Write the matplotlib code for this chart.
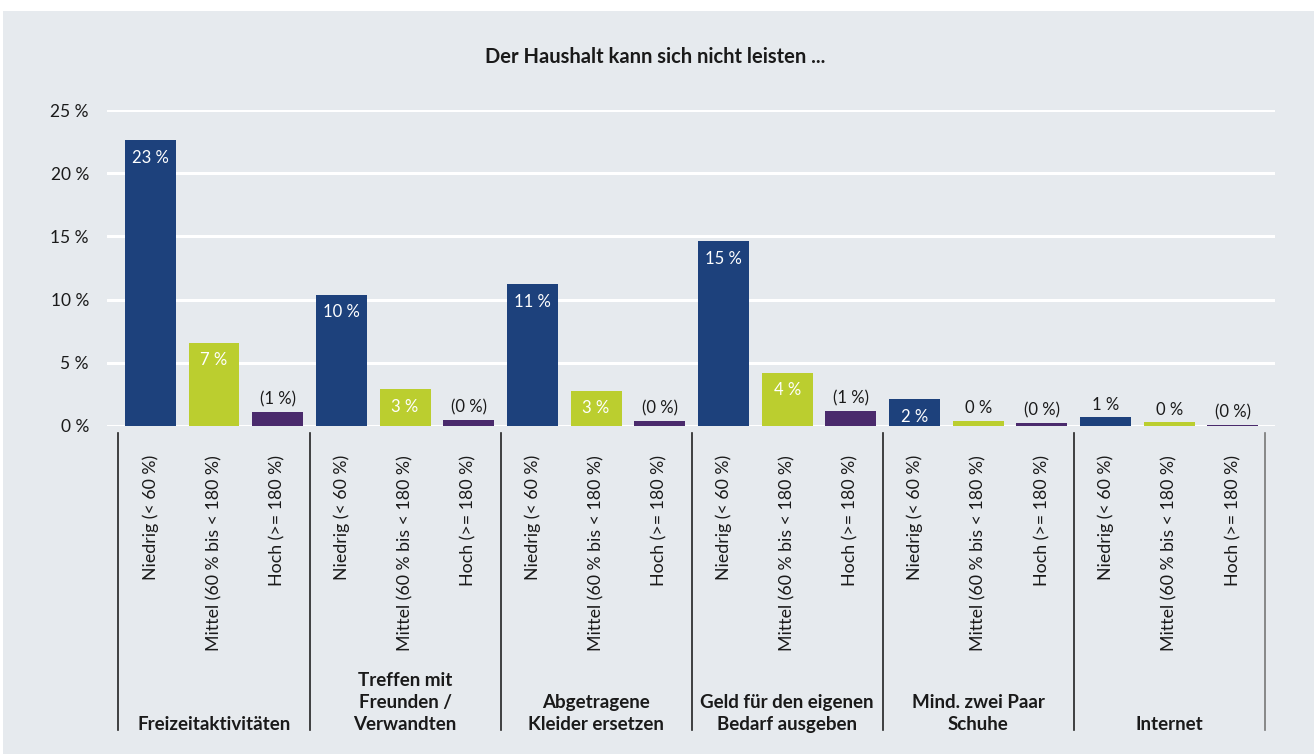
import matplotlib
matplotlib.use("Agg")
import matplotlib.pyplot as plt
from matplotlib.patches import Rectangle
import matplotlib.transforms as mtransforms

plt.rcParams['font.family'] = ['Lato', 'DejaVu Sans']

title = "Der Haushalt kann sich nicht leisten ..."
categories = ["Freizeitaktivitäten", "Treffen mit\nFreunden /\nVerwandten",
              "Abgetragene\nKleider ersetzen", "Geld für den eigenen\nBedarf ausgeben",
              "Mind. zwei Paar\nSchuhe", "Internet"]
income_groups = ["Niedrig (< 60 %)", "Mittel (60 % bis < 180 %)", "Hoch (>= 180 %)"]
niedrig = [22.6, 10.4, 11.2, 14.6, 2.1, 0.7]
mittel = [6.6, 2.9, 2.8, 4.2, 0.4, 0.3]
hoch = [1.1, 0.5, 0.4, 1.2, 0.25, 0.1]
niedrig_labels = ["23 %", "10 %", "11 %", "15 %", "2 %", "1 %"]
mittel_labels = ["7 %", "3 %", "3 %", "4 %", "0 %", "0 %"]
hoch_labels = ["(1 %)", "(0 %)", "(0 %)", "(1 %)", "(0 %)", "(0 %)"]
yticks = [0, 5, 10, 15, 20, 25]
ytick_labels = ["0 %", "5 %", "10 %", "15 %", "20 %", "25 %"]

colors = ["#1D417C", "#BBCE2F", "#4A2A6C"]
bg = "#E6EAEE"
txt = "#1a1a1a"

W, H = 1314, 754
fig = plt.figure(figsize=(W / 100, H / 100), dpi=100, facecolor="white")
fig.patches.append(Rectangle((3 / W, 0), 1 - 3 / W, 1 - 11 / H, transform=fig.transFigure,
                             facecolor=bg, edgecolor="none", zorder=-10))

ax_left, ax_right = 107, 1275
ax_top, ax_bot = 110, 426
ax = fig.add_axes([ax_left / W, 1 - ax_bot / H, (ax_right - ax_left) / W, (ax_bot - ax_top) / H])
ax.set_facecolor("none")

series = [niedrig, mittel, hoch]
labels = [niedrig_labels, mittel_labels, hoch_labels]
n_cat = len(categories)
for s in range(3):
    xs = [c * 3 + s for c in range(n_cat)]
    ax.bar(xs, series[s], width=0.8, color=colors[s], zorder=3)
    for x, v, lab in zip(xs, series[s], labels[s]):
        if v > 1.5:
            ax.annotate(lab, (x, v), xytext=(0, -12.5), textcoords="offset points",
                        ha="center", va="center", color="white", fontsize=12, zorder=4)
        else:
            ax.annotate(lab, (x, v), xytext=(0, 9), textcoords="offset points",
                        ha="center", va="center", color=txt, fontsize=12, zorder=4)

ax.set_ylim(0, 25)
ax.set_xlim(-0.68, 3 * n_cat - 0.34)
ax.set_yticks(yticks)
ax.set_yticklabels(ytick_labels, fontsize=12.5, color=txt)
ax.tick_params(axis="y", length=0, pad=13)
ax.set_xticks([])
ax.grid(axis="y", color="white", linewidth=2.2, zorder=1)
ax.set_axisbelow(True)
for sp in ax.spines.values():
    sp.set_visible(False)
ax.axhline(0, color="white", linewidth=2.2, zorder=2)

trans = mtransforms.blended_transform_factory(ax.transData, ax.transAxes)
def yfrac(ypx):
    return (ax_bot - ypx) / (ax_bot - ax_top)

for c in range(n_cat + 1):
    xsep = c * 3 - 0.5
    ax.plot([xsep, xsep], [yfrac(433), yfrac(730)], transform=trans, clip_on=False,
            color="#222222" if c < n_cat else "#777777", linewidth=1.2)

for c in range(n_cat):
    for s in range(3):
        ax.text(c * 3 + s, yfrac(455), income_groups[s], transform=trans, rotation=90,
                ha="center", va="top", fontsize=12.8, color=txt, clip_on=False)
    ax.text(c * 3 + 1, yfrac(733), categories[c], transform=trans, ha="center", va="bottom",
            fontsize=13.5, fontweight="bold", color=txt, linespacing=1.35, clip_on=False)

fig.text(655 / W, 1 - 57 / H, title, ha="center", va="center", fontsize=14.5,
         fontweight="bold", color=txt)

fig.savefig("out.png", dpi=100, facecolor="white")
